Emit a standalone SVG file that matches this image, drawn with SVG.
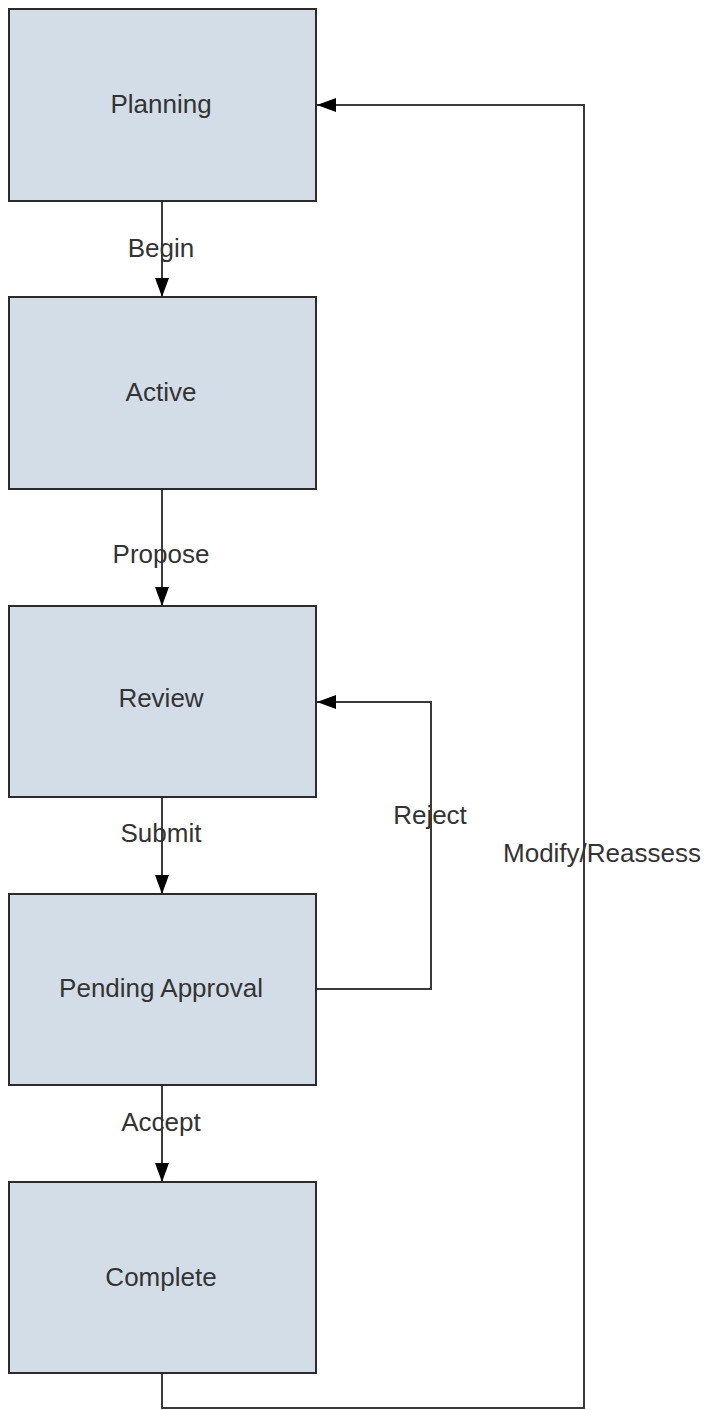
<svg xmlns="http://www.w3.org/2000/svg" width="709" height="1410" viewBox="0 0 709 1410">
<style>
.box{fill:#d3dde7;stroke:#2b2b2b;stroke-width:2}
.lbl{font-family:"Liberation Sans",Arial,sans-serif;font-size:26px;fill:#333;text-anchor:middle}
.con{fill:none;stroke:#3a3a3a;stroke-width:2}
</style>
<defs>
<marker id="arr" markerUnits="userSpaceOnUse" markerWidth="19" markerHeight="14" refX="19" refY="7" orient="auto" viewBox="0 0 19 14">
<path d="M0,0 L19,7 L0,14 z" fill="#000"/>
</marker>
</defs>
<rect width="709" height="1410" fill="#fff"/>
<g id="connectors">
<line class="con" x1="162" y1="201" x2="162" y2="297" marker-end="url(#arr)"/>
<line class="con" x1="162" y1="489" x2="162" y2="606" marker-end="url(#arr)"/>
<line class="con" x1="162" y1="797" x2="162" y2="894" marker-end="url(#arr)"/>
<line class="con" x1="162" y1="1085" x2="162" y2="1182" marker-end="url(#arr)"/>
<polyline class="con" points="316,989 431,989 431,702 317,702" marker-end="url(#arr)"/>
<polyline class="con" points="162,1373 162,1408 584,1408 584,105 317,105" marker-end="url(#arr)"/>
<text class="lbl" x="161" y="257">Begin</text>
<text class="lbl" x="161" y="563">Propose</text>
<text class="lbl" x="161" y="842">Submit</text>
<text class="lbl" x="161" y="1131">Accept</text>
<text class="lbl" x="430" y="824">Reject</text>
<text class="lbl" x="602" y="862">Modify/Reassess</text>
</g>
<g id="planning"><rect class="box" x="9" y="9" width="307" height="192"/><text class="lbl" x="161" y="113">Planning</text></g>
<g id="active"><rect class="box" x="9" y="297" width="307" height="192"/><text class="lbl" x="161" y="401">Active</text></g>
<g id="review"><rect class="box" x="9" y="606" width="307" height="191"/><text class="lbl" x="161" y="707">Review</text></g>
<g id="pending-approval"><rect class="box" x="9" y="894" width="307" height="191"/><text class="lbl" x="161" y="997">Pending Approval</text></g>
<g id="complete"><rect class="box" x="9" y="1182" width="307" height="191"/><text class="lbl" x="161" y="1286">Complete</text></g>
</svg>
